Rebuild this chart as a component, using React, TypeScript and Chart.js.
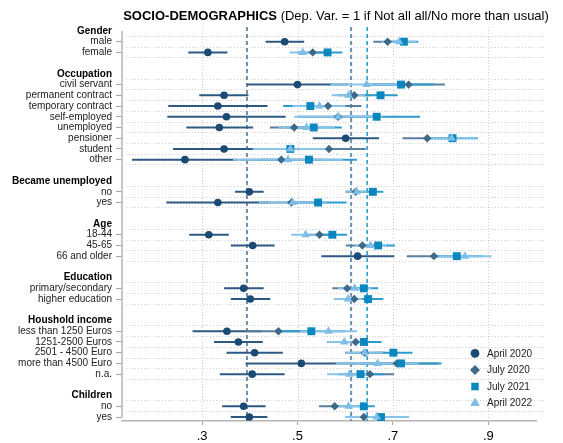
import React, { useEffect, useRef } from 'react';
import { Chart, registerables } from 'chart.js';

Chart.register(...registerables);

const FONT = '"Liberation Sans", Arial, Helvetica, sans-serif';

// ---------- data ----------
const groupTitles = ['Gender', 'Occupation', 'Became unemployed', 'Age', 'Education', 'Houshold income', 'Children'];
const groupItems: string[][] = [
  ['male', 'female'],
  ['civil servant', 'permanent contract', 'temporary contract', 'self-employed', 'unemployed', 'pensioner', 'student', 'other'],
  ['no', 'yes'],
  ['18-44', '45-65', '66 and older'],
  ['primary/secondary', 'higher education'],
  ['less than 1250 Euros', '1251-2500 Euros', '2501 - 4500 Euro', 'more than 4500 Euro', 'n.a.'],
  ['no', 'yes'],
];

const seriesNames = ['April 2020', 'July 2020', 'July 2021', 'April 2022'];

const apr2020Est = [0.473, 0.312, 0.500, 0.346, 0.333, 0.351, 0.336, 0.601, 0.346, 0.264, 0.399, 0.333, 0.314, 0.406, 0.626, 0.387, 0.401, 0.352, 0.376, 0.410, 0.508, 0.405, 0.387, 0.399];
const apr2020Lo = [0.433, 0.271, 0.394, 0.294, 0.229, 0.227, 0.267, 0.532, 0.239, 0.153, 0.369, 0.225, 0.273, 0.360, 0.550, 0.346, 0.360, 0.280, 0.325, 0.351, 0.391, 0.337, 0.342, 0.360];
const apr2020Hi = [0.514, 0.353, 0.606, 0.397, 0.437, 0.475, 0.407, 0.671, 0.453, 0.376, 0.429, 0.440, 0.356, 0.452, 0.703, 0.429, 0.443, 0.425, 0.427, 0.469, 0.624, 0.473, 0.433, 0.437];

const jul2020Est = [0.689, 0.532, 0.733, 0.619, 0.564, 0.585, 0.493, 0.772, 0.566, 0.466, 0.622, 0.487, 0.546, 0.636, 0.786, 0.604, 0.619, 0.460, 0.622, 0.641, 0.708, 0.652, 0.578, 0.639];
const jul2020Lo = [0.659, 0.500, 0.656, 0.585, 0.495, 0.500, 0.442, 0.720, 0.488, 0.380, 0.601, 0.420, 0.515, 0.601, 0.729, 0.573, 0.588, 0.390, 0.586, 0.600, 0.620, 0.601, 0.545, 0.601];
const jul2020Hi = [0.718, 0.563, 0.809, 0.653, 0.634, 0.670, 0.545, 0.825, 0.643, 0.553, 0.642, 0.555, 0.576, 0.670, 0.843, 0.636, 0.650, 0.530, 0.658, 0.683, 0.795, 0.702, 0.610, 0.677];

const jul2021Est = [0.723, 0.563, 0.717, 0.674, 0.527, 0.666, 0.534, 0.825, 0.485, 0.524, 0.658, 0.543, 0.573, 0.669, 0.834, 0.639, 0.648, 0.529, 0.639, 0.701, 0.717, 0.632, 0.639, 0.675];
const jul2021Lo = [0.693, 0.533, 0.650, 0.638, 0.470, 0.575, 0.476, 0.772, 0.405, 0.422, 0.636, 0.483, 0.543, 0.634, 0.780, 0.608, 0.617, 0.460, 0.603, 0.661, 0.632, 0.585, 0.615, 0.640];
const jul2021Hi = [0.753, 0.594, 0.785, 0.710, 0.585, 0.757, 0.593, 0.878, 0.566, 0.625, 0.680, 0.603, 0.604, 0.704, 0.888, 0.669, 0.680, 0.600, 0.676, 0.741, 0.802, 0.680, 0.662, 0.710];

const apr2022Est = [0.713, 0.511, 0.645, 0.607, 0.546, 0.585, 0.519, 0.823, 0.485, 0.480, 0.624, 0.490, 0.517, 0.653, 0.851, 0.620, 0.606, 0.565, 0.598, 0.641, 0.668, 0.609, 0.607, 0.666];
const apr2022Lo = [0.676, 0.483, 0.569, 0.572, 0.490, 0.493, 0.460, 0.770, 0.407, 0.365, 0.603, 0.419, 0.487, 0.620, 0.795, 0.585, 0.576, 0.505, 0.561, 0.602, 0.580, 0.562, 0.575, 0.600];
const apr2022Hi = [0.750, 0.540, 0.720, 0.642, 0.600, 0.678, 0.578, 0.877, 0.563, 0.595, 0.645, 0.560, 0.546, 0.687, 0.907, 0.655, 0.636, 0.625, 0.635, 0.680, 0.755, 0.656, 0.640, 0.734];

const seriesMeans = [0.394, 0.612, 0.646, 0.613];
const xTickValues = [0.3, 0.5, 0.7, 0.9];

// ---------- styles ----------
const markerStyles = ['circle', 'rectRot', 'rect', 'triangle'];
const markerColors = ['#1b4a74', '#3f6889', '#0a87bf', '#7dbfe7'];
const lineColors = ['#2c5a84', '#5a7e9c', '#2b9bd0', '#88c4e9'];
const meanColors = ['#4f7596', '#6287a4', '#2f9dd1', '#8cc6ea'];
const markerRadii = [3.8, 4.2, 5.6, 5.0];
const legendRadii = [4.4, 5.0, 5.3, 5.6];

// ---------- rows ----------
type Row = { label: string; header: boolean; blank: boolean };
const rows: Row[] = [];
const catRow: number[] = [];
groupTitles.forEach((t, g) => {
  if (g > 0) rows.push({ label: '', header: false, blank: true });
  rows.push({ label: t, header: true, blank: false });
  groupItems[g].forEach((it) => {
    catRow.push(rows.length);
    rows.push({ label: it, header: false, blank: false });
  });
});
const yMin = -0.37;
const yMax = rows.length - 1 + 0.37;

const estAll = [apr2020Est, jul2020Est, jul2021Est, apr2022Est];
const loAll = [apr2020Lo, jul2020Lo, jul2021Lo, apr2022Lo];
const hiAll = [apr2020Hi, jul2020Hi, jul2021Hi, apr2022Hi];

function drawMarker(ctx: CanvasRenderingContext2D, style: string, x: number, y: number, r: number, color: string) {
  ctx.fillStyle = color;
  ctx.beginPath();
  if (style === 'circle') ctx.arc(x, y, r, 0, Math.PI * 2);
  else if (style === 'rect') ctx.rect(x - r * 0.7071, y - r * 0.7071, r * 1.4142, r * 1.4142);
  else if (style === 'rectRot') {
    ctx.moveTo(x, y - r); ctx.lineTo(x + r, y); ctx.lineTo(x, y + r); ctx.lineTo(x - r, y); ctx.closePath();
  } else {
    ctx.moveTo(x, y - r); ctx.lineTo(x + r * 0.866, y + r * 0.5); ctx.lineTo(x - r * 0.866, y + r * 0.5); ctx.closePath();
  }
  ctx.fill();
}

const gridPlugin = {
  id: 'stataGrid',
  beforeDatasetsDraw(chart: any) {
    const { ctx, chartArea: a, scales } = chart;
    const x = scales.x, y = scales.y;
    ctx.save();
    ctx.strokeStyle = '#cfcfcf';
    ctx.lineWidth = 1;
    ctx.setLineDash([1, 2]);
    xTickValues.forEach((v) => {
      const px = Math.round(x.getPixelForValue(v)) + 0.5;
      ctx.beginPath(); ctx.moveTo(px, a.top); ctx.lineTo(px, a.bottom); ctx.stroke();
    });
    rows.forEach((r, i) => {
      if (r.blank) return;
      const py = Math.round(y.getPixelForValue(i + 0.45)) + 0.5;
      if (py > a.bottom - 2) return;
      ctx.beginPath(); ctx.moveTo(a.left + 4, py); ctx.lineTo(a.right + 10, py); ctx.stroke();
    });
    ctx.setLineDash([]);
    ctx.strokeStyle = '#b4b4b4';
    ctx.lineWidth = 1.5;
    ctx.beginPath();
    ctx.moveTo(a.left, y.getPixelForValue(0));
    ctx.lineTo(a.left, y.getPixelForValue(rows.length - 1));
    ctx.stroke();
    ctx.restore();
  },
};

const decorPlugin = {
  id: 'decor',
  afterDraw(chart: any) {
    const { ctx, chartArea: a } = chart;
    ctx.save();
    // title
    const bold = 'SOCIO-DEMOGRAPHICS';
    const rest = ' (Dep. Var. = 1 if Not all all/No more than usual)';
    ctx.textBaseline = 'alphabetic';
    ctx.fillStyle = '#000';
    ctx.font = `bold 13px ${FONT}`;
    const w1 = ctx.measureText(bold).width;
    ctx.font = `13px ${FONT}`;
    const w2 = ctx.measureText(rest).width;
    const x0 = (a.left + a.right) / 2 + 7 - (w1 + w2) / 2;
    ctx.font = `bold 13px ${FONT}`;
    ctx.fillText(bold, x0, 20);
    ctx.font = `13px ${FONT}`;
    ctx.fillText(rest, x0 + w1, 20);
    // legend
    ctx.font = `10px ${FONT}`;
    ctx.textBaseline = 'middle';
    seriesNames.forEach((name, s) => {
      const yy = a.bottom - 67.7 + s * 16.6;
      drawMarker(ctx, markerStyles[s], a.right - 61, yy, legendRadii[s], markerColors[s]);
      ctx.fillStyle = '#222';
      ctx.fillText(name, a.right - 49, yy + 0.5);
    });
    ctx.restore();
  },
};

function buildDatasets() {
  const ds: any[] = [];
  // markers (drawn on top)
  seriesNames.forEach((name, s) => {
    ds.push({
      type: 'scatter',
      label: name,
      data: estAll[s].map((v, i) => ({ x: v, y: catRow[i] })),
      pointStyle: markerStyles[s],
      pointRadius: markerRadii[s],
      pointBackgroundColor: markerColors[s],
      pointBorderColor: markerColors[s],
      pointBorderWidth: 0,
      order: 3 - s,
    });
  });
  // confidence intervals
  seriesNames.forEach((name, s) => {
    const pts: any[] = [];
    loAll[s].forEach((lo, i) => {
      pts.push({ x: lo, y: catRow[i] });
      pts.push({ x: hiAll[s][i], y: catRow[i] });
      pts.push({ x: null, y: null });
    });
    ds.push({
      type: 'scatter',
      label: name + ' CI',
      data: pts,
      showLine: true,
      spanGaps: false,
      borderColor: lineColors[s],
      borderWidth: 2,
      pointRadius: 0,
      order: 13 - s,
    });
  });
  // means
  seriesNames.forEach((name, s) => {
    ds.push({
      type: 'scatter',
      label: name + ' mean',
      data: [{ x: seriesMeans[s], y: yMin }, { x: seriesMeans[s], y: yMax }],
      showLine: true,
      borderColor: meanColors[s],
      borderWidth: 1.6,
      borderDash: [4, 3],
      pointRadius: 0,
      order: 20 + s,
    });
  });
  return ds;
}

export default function App() {
  const ref = useRef<HTMLCanvasElement>(null);
  useEffect(() => {
    const chart = new Chart(ref.current as HTMLCanvasElement, {
      type: 'scatter',
      data: { datasets: buildDatasets() },
      options: {
        animation: false,
        responsive: true,
        maintainAspectRatio: false,
        layout: { padding: { top: 27, right: 27, left: 0, bottom: 0 } },
        plugins: { legend: { display: false }, tooltip: { enabled: false }, title: { display: false } },
        scales: {
          x: {
            type: 'linear',
            min: 0.132,
            max: 1.0,
            afterBuildTicks: (s: any) => { s.ticks = xTickValues.map((v) => ({ value: v })); },
            afterFit: (s: any) => { s.height = 22; },
            ticks: {
              callback: (v: any) => '.' + Math.round(Number(v) * 10),
              font: { family: FONT, size: 13 },
              color: '#000',
              padding: 4,
              autoSkip: false,
              maxRotation: 0,
            },
            grid: { drawOnChartArea: false, drawTicks: true, tickLength: 4, tickColor: '#aaa', tickWidth: 1.2 },
            border: { display: true, color: '#b4b4b4', width: 1.5 },
          },
          y: {
            type: 'linear',
            reverse: true,
            min: yMin,
            max: yMax,
            afterBuildTicks: (s: any) => { s.ticks = rows.map((_, i) => ({ value: i })); },
            afterFit: (s: any) => { s.width = 122; },
            ticks: {
              autoSkip: false,
              padding: 4,
              callback: (_v: any, i: number) => rows[i] ? rows[i].label : '',
              font: (c: any) => ({ family: FONT, size: 10, weight: rows[c.index] && rows[c.index].header ? 'bold' : 'normal' }),
              color: (c: any) => (rows[c.index] && rows[c.index].header ? '#000' : '#222'),
            },
            grid: {
              drawOnChartArea: false,
              drawTicks: true,
              tickLength: 6,
              tickWidth: 1.2,
              tickColor: (c: any) => (rows[c.index] && !rows[c.index].header && !rows[c.index].blank ? '#aaa' : 'rgba(0,0,0,0)'),
            },
            border: { display: false },
          },
        },
      } as any,
      plugins: [gridPlugin, decorPlugin],
    });
    return () => chart.destroy();
  }, []);
  return (
    <div style={{ position: 'fixed', left: 0, top: 0, width: 563, height: 443, background: '#fff' }}>
      <canvas ref={ref} />
    </div>
  );
}
